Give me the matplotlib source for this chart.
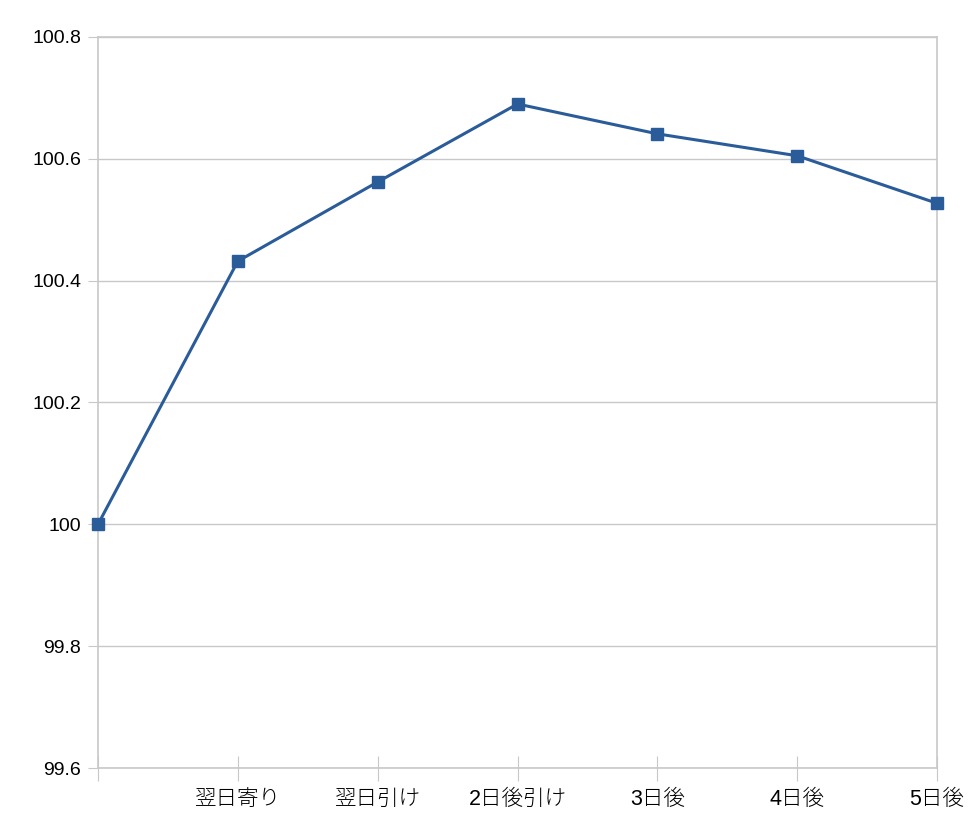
import numpy as np
import matplotlib.pyplot as plt
from matplotlib.ticker import FuncFormatter

plt.rcParams['font.family'] = ['Liberation Sans', 'Noto Sans CJK JP']

labels = ['', '翌日寄り', '翌日引け', '2日後引け', '3日後', '4日後', '5日後']
values = [100.0, 100.432, 100.562, 100.690, 100.641, 100.605, 100.527]
yticks = [99.6, 99.8, 100.0, 100.2, 100.4, 100.6, 100.8]

grid_c = '#c8c8c8'
line_c = '#2b5c9a'

fig = plt.figure(figsize=(9.78, 8.18), dpi=100)
ax = fig.add_axes([0.1002, 0.0611, 0.8579, 0.8937])

x = np.arange(len(values))
ax.plot(x, values, color=line_c, lw=2.2, marker='s', ms=8, zorder=3, clip_on=False)

ax.set_xlim(0, len(values) - 1)
ax.set_ylim(99.6, 100.8)
ax.set_yticks(yticks)
ax.yaxis.set_major_formatter(FuncFormatter(lambda v, p: '%g' % round(v, 1)))
ax.set_xticks(x)
ax.set_xticklabels(labels, fontsize=15.5, fontweight='light')

ax.grid(axis='y', color=grid_c, lw=1)
ax.set_axisbelow(True)
for s in ax.spines.values():
    s.set_color(grid_c)
    s.set_linewidth(1.2)

ax.tick_params(axis='y', length=7, color=grid_c, labelsize=14, pad=5)
ax.tick_params(axis='x', direction='inout', length=18, color=grid_c, pad=6)

fig.savefig('out.png', dpi=100)
